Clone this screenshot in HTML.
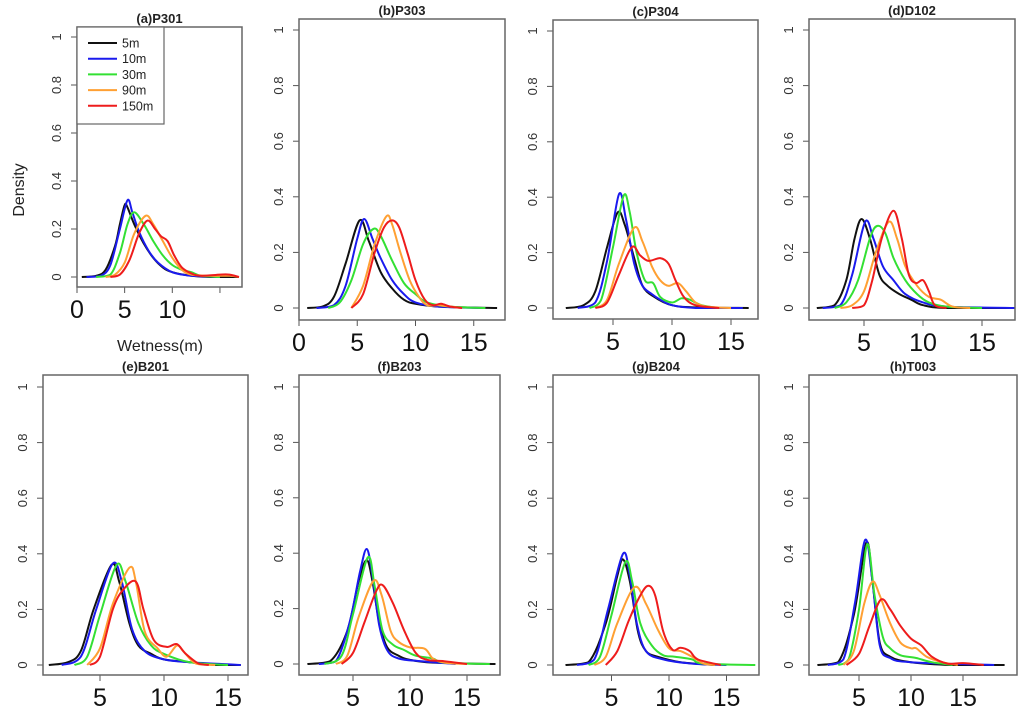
<!DOCTYPE html>
<html><head><meta charset="utf-8"><style>
html,body{margin:0;padding:0;background:#fff;}
svg{display:block;font-family:"Liberation Sans",Arial,sans-serif;}
</style></head><body>
<svg id="chart" width="1024" height="716" viewBox="0 0 1024 716" xmlns="http://www.w3.org/2000/svg"></svg>
<script>
// ---- data ----
const seriesNames = ["5m","10m","30m","90m","150m"];
const seriesColors = ["#111111","#1a1aee","#33e033","#ffa033","#ee1c1c"];
const panelTitles = ["(a)P301","(b)P303","(c)P304","(d)D102","(e)B201","(f)B203","(g)B204","(h)T003"];
const yTicks = [0,0.2,0.4,0.6,0.8,1];
const yTickLabels = ["0","0.2","0.4","0.6","0.8","1"];
const xTicksA = [0,5,10,15];
const xTickLabelsA = ["0","5","10",""];
const xTicksB = [0,5,10,15];
const xTickLabelsB = ["0","5","10","15"];
const xTicksOther = [5,10,15];
const xTickLabelsOther = ["5","10","15"];

const pA = [
 [[0.5,0],[2,0.005],[3,0.03],[4,0.13],[4.5,0.22],[5,0.30],[5.3,0.29],[6,0.22],[7,0.14],[8,0.08],[9,0.04],[10,0.02],[12,0.005],[14,0],[17,0]],
 [[1,0],[2.5,0.005],[3.5,0.05],[4.5,0.2],[5.3,0.32],[5.8,0.27],[6.5,0.19],[7.5,0.11],[8.5,0.06],[10,0.02],[12,0.005],[15,0]],
 [[2,0],[3.5,0.01],[4.5,0.1],[5.3,0.22],[6,0.27],[7,0.22],[8,0.15],[9,0.09],[10,0.05],[11,0.03],[12,0.02],[13,0.005],[15,0]],
 [[3,0],[4,0.01],[5,0.06],[6,0.18],[7.2,0.255],[8,0.22],[9,0.15],[10,0.08],[11,0.03],[12,0.01],[14,0.005],[16,0.005],[17,0]],
 [[3.5,0],[4.5,0.01],[5.5,0.07],[6.5,0.18],[7.4,0.235],[8.2,0.2],[8.8,0.17],[9.5,0.15],[10.2,0.09],[11,0.04],[12,0.015],[13,0.005],[15,0.01],[16,0.01],[17,0]]
];
const pB = [
 [[0.7,0],[2,0.005],[3,0.04],[4,0.16],[5.2,0.315],[6,0.24],[7,0.13],[8,0.07],[9,0.03],[10,0.015],[12,0.005],[17,0]],
 [[1.5,0],[3,0.01],[4,0.08],[5,0.25],[5.6,0.32],[6.3,0.25],[7,0.18],[8,0.1],[9,0.05],[10,0.02],[12,0.005],[16,0]],
 [[2.5,0],[3.5,0.02],[4.5,0.1],[5.5,0.23],[6.4,0.285],[7,0.26],[8,0.17],[9,0.09],[10,0.05],[11,0.02],[13,0.005],[16,0]],
 [[4.5,0],[5.5,0.08],[6.5,0.23],[7.5,0.33],[8,0.3],[8.7,0.2],[9.5,0.1],[10.3,0.04],[11,0.01],[12,0.01],[13,0.005],[14,0]],
 [[4.5,0],[5.5,0.05],[6.5,0.2],[7.3,0.29],[8,0.315],[8.6,0.29],[9.3,0.2],[10,0.1],[10.8,0.03],[11.5,0.01],[12.2,0.015],[13,0.005],[14,0]]
];
const pC = [
 [[1,0],[2.5,0.01],[3.5,0.06],[4.5,0.22],[5.4,0.345],[6,0.3],[6.8,0.18],[7.5,0.08],[8.5,0.04],[10,0.01],[12,0.002],[16.5,0]],
 [[2,0],[3.5,0.02],[4.5,0.17],[5.5,0.41],[6.1,0.32],[6.8,0.16],[7.5,0.08],[8.3,0.05],[9,0.03],[10,0.01],[12,0],[16,0]],
 [[3,0],[4,0.03],[5,0.22],[5.9,0.405],[6.4,0.35],[7,0.2],[7.7,0.1],[8.4,0.09],[9,0.04],[10,0.02],[10.8,0.035],[11.5,0.03],[12.5,0.01],[14,0]],
 [[3.5,0],[4.5,0.03],[5.5,0.16],[6.8,0.29],[7.5,0.24],[8.3,0.15],[9,0.1],[9.7,0.08],[10.5,0.09],[11.2,0.06],[12,0.02],[13,0.005],[15,0]],
 [[3.5,0],[4.5,0.02],[5.5,0.12],[6.6,0.22],[7.3,0.19],[8,0.17],[9,0.18],[9.7,0.16],[10.3,0.1],[11,0.04],[12,0.01],[14,0]]
];
const pD = [
 [[1,0],[2.5,0.01],[3.5,0.1],[4.2,0.25],[4.8,0.32],[5.5,0.25],[6.3,0.12],[7,0.08],[8,0.05],[9,0.03],[10,0.01],[12,0],[18,0]],
 [[1.5,0],[3,0.01],[4,0.12],[5.1,0.31],[5.8,0.25],[6.6,0.15],[7.5,0.1],[8.5,0.05],[10,0.02],[12,0.005],[18,0]],
 [[2.5,0],[3.5,0.02],[4.5,0.1],[5.5,0.25],[6.1,0.295],[6.8,0.27],[7.5,0.18],[8.5,0.1],[9.5,0.05],[10.5,0.02],[12,0.005],[15,0]],
 [[3,0],[4,0.01],[5,0.06],[6,0.2],[7.1,0.31],[7.8,0.25],[8.5,0.15],[9.5,0.08],[10.5,0.04],[11.5,0.03],[12.5,0.005],[14,0]],
 [[4,0],[5,0.01],[5.7,0.1],[6.5,0.25],[7.5,0.35],[8.2,0.25],[8.8,0.12],[9.4,0.09],[10,0.1],[10.5,0.06],[11,0.01],[12,0]]
];
const pE = [
 [[1,0],[2.5,0.01],[3.5,0.05],[4.5,0.2],[5.9,0.36],[6.5,0.3],[7.3,0.15],[8,0.07],[9,0.04],[10,0.02],[12,0.01],[14,0],[16,0]],
 [[2,0],[3.5,0.03],[4.7,0.2],[6.0,0.365],[6.7,0.3],[7.5,0.13],[8.5,0.05],[10,0.02],[12,0.01],[16,0]],
 [[3,0],[4,0.03],[5,0.18],[6.3,0.36],[7,0.3],[8,0.15],[9,0.07],[10,0.04],[12,0.01],[15,0]],
 [[4,0],[5,0.06],[6,0.22],[7.3,0.35],[7.8,0.3],[8.5,0.12],[9.5,0.06],[10.2,0.03],[11,0.07],[11.5,0.05],[12.5,0.005],[14,0]],
 [[4.2,0],[5,0.03],[6,0.2],[6.8,0.27],[7.8,0.3],[8.4,0.2],[9.2,0.09],[10.2,0.065],[11,0.075],[11.7,0.04],[12.7,0.005],[13.5,0]]
];
const pF = [
 [[1,0],[3,0.01],[4.5,0.12],[5.5,0.3],[6.2,0.375],[6.7,0.3],[7.3,0.15],[8,0.06],[9,0.03],[10,0.015],[12,0.005],[17.5,0]],
 [[2,0],[3.5,0.01],[4.7,0.15],[5.6,0.33],[6.2,0.415],[6.7,0.32],[7.3,0.14],[8,0.05],[9,0.02],[11,0.01],[14,0]],
 [[2.5,0],[4,0.03],[5,0.18],[6.3,0.385],[6.9,0.28],[7.6,0.12],[8.5,0.07],[9.5,0.05],[10.5,0.03],[12,0.02],[13,0.005],[17,0]],
 [[3.5,0],[4.5,0.03],[5.5,0.17],[6.8,0.3],[7.5,0.25],[8.3,0.12],[9,0.08],[10,0.06],[11.3,0.055],[12,0.02],[13,0.005],[15,0]],
 [[4,0],[5,0.04],[6,0.15],[7,0.26],[7.6,0.285],[8.5,0.22],[9.5,0.12],[10.5,0.04],[11.5,0.015],[13,0.01],[15,0]]
];
const pG = [
 [[1,0],[3,0.01],[4.5,0.15],[5.5,0.32],[6,0.38],[6.6,0.3],[7.3,0.12],[8,0.05],[9,0.03],[11,0.01],[14,0]],
 [[2,0],[3.5,0.02],[4.7,0.2],[6,0.4],[6.6,0.32],[7.2,0.15],[8,0.05],[9.5,0.02],[12,0.005],[15,0]],
 [[3,0],[4,0.03],[5,0.18],[6.2,0.37],[6.8,0.3],[7.5,0.15],[8.5,0.07],[9.5,0.035],[10.5,0.03],[12,0.02],[13,0.005],[17.5,0]],
 [[3.5,0],[4.5,0.03],[5.5,0.15],[7,0.28],[8,0.22],[9,0.13],[10,0.06],[11,0.05],[12,0.03],[13,0.005],[14,0]],
 [[4.5,0],[5.5,0.05],[6.5,0.16],[7.5,0.25],[8.2,0.285],[8.8,0.25],[9.5,0.12],[10.3,0.055],[11,0.062],[11.8,0.05],[12.5,0.02],[14.5,0]]
];
const pH = [
 [[1,0],[3,0.01],[4.5,0.18],[5.7,0.44],[6.3,0.3],[7,0.08],[8,0.03],[10,0.01],[14,0],[19,0]],
 [[2,0],[3.5,0.02],[4.6,0.22],[5.6,0.45],[6.3,0.3],[7,0.07],[8,0.025],[10,0.01],[18,0]],
 [[3,0],[4,0.02],[5,0.2],[5.8,0.435],[6.5,0.25],[7.3,0.1],[8,0.06],[9,0.035],[10.5,0.025],[12,0.01],[14,0]],
 [[3.5,0],[4.5,0.05],[5.5,0.22],[6.3,0.3],[7,0.25],[8,0.15],[9,0.08],[10,0.06],[10.5,0.06],[11.5,0.03],[13,0.01],[14.5,0]],
 [[3.8,0],[5,0.04],[6,0.14],[7.1,0.235],[8,0.2],[9,0.14],[10,0.095],[11,0.07],[12,0.03],[13.5,0.005],[15,0.007],[17,0]]
];
const panelData = [pA,pB,pC,pD,pE,pF,pG,pH];

// ---- layout (pixel geometry) ----
const layout = [
 {l:77,r:242,t:27,b:287,x0:77,xs:9.53,y0:277,y1:37,tk:xTicksA,tl:xTickLabelsA},
 {l:299,r:505,t:19,b:320,x0:299,xs:11.65,y0:308,y1:30,tk:xTicksB,tl:xTickLabelsB},
 {l:553,r:758,t:20,b:319,x0:554,xs:11.8,y0:308,y1:31,tk:xTicksOther,tl:xTickLabelsOther},
 {l:809,r:1015,t:19,b:320,x0:805,xs:11.8,y0:308,y1:30,tk:xTicksOther,tl:xTickLabelsOther},
 {l:43,r:248,t:375,b:675,x0:36,xs:12.8,y0:665,y1:387,tk:xTicksOther,tl:xTickLabelsOther},
 {l:299,r:500,t:375,b:675,x0:296,xs:11.4,y0:664,y1:387,tk:xTicksOther,tl:xTickLabelsOther},
 {l:553,r:759,t:375,b:675,x0:554,xs:11.5,y0:665,y1:387,tk:xTicksOther,tl:xTickLabelsOther},
 {l:809,r:1017,t:375,b:675,x0:807,xs:10.4,y0:665,y1:387,tk:xTicksOther,tl:xTickLabelsOther}
];

const NS = "http://www.w3.org/2000/svg";
const svg = document.getElementById('chart');
function mk(tag, attrs, parent){
  const e = document.createElementNS(NS, tag);
  for (const k in attrs) e.setAttribute(k, attrs[k]);
  (parent||svg).appendChild(e);
  return e;
}
function smoothPath(pts, base){
  let d = "M" + pts[0][0].toFixed(1) + "," + pts[0][1].toFixed(1);
  for (let i=0;i<pts.length-1;i++){
    const p0 = pts[i-1]||pts[i], p1=pts[i], p2=pts[i+1], p3=pts[i+2]||p2;
    const c1x = p1[0]+(p2[0]-p0[0])/6, c1y = Math.min(p1[1]+(p2[1]-p0[1])/6, base);
    const c2x = p2[0]-(p3[0]-p1[0])/6, c2y = Math.min(p2[1]-(p3[1]-p1[1])/6, base);
    d += " C"+c1x.toFixed(1)+","+c1y.toFixed(1)+" "+c2x.toFixed(1)+","+c2y.toFixed(1)+" "+p2[0].toFixed(1)+","+p2[1].toFixed(1);
  }
  return d;
}

panelData.forEach((series, pi) => {
  const L = layout[pi];
  const xS = v => L.x0 + v*L.xs;
  const yS = v => L.y0 - v*(L.y0-L.y1);
  const g = mk('g', {});
  
  

  const title = mk('text', {x:(L.l+L.r)/2, y:L.t-4, 'text-anchor':'middle', 'font-size':13, 'font-weight':'bold', fill:'#222'}, g);
  title.textContent = panelTitles[pi];
  
  

  yTicks.forEach((v, i) => {
    const y = yS(v);
    const tk = mk('line', {x1:L.l-6, x2:L.l, y1:y, y2:y, stroke:'#555', 'stroke-width':1}, g);
    
    
    const tx = mk('text', {x:0, y:0, transform:`translate(${L.l-16},${y}) rotate(-90)`, 'text-anchor':'middle', 'font-size':13, fill:'#333'}, g);
    tx.textContent = yTickLabels[i];
    
    
  });
  L.tk.forEach((v, i) => {
    const x = xS(v);
    const tk = mk('line', {x1:x, x2:x, y1:L.b, y2:L.b+6, stroke:'#555', 'stroke-width':1}, g);
    
    
    if (L.tl[i]) {
      const tx = mk('text', {x:x, y:L.b+31, 'text-anchor':'middle', 'font-size':25, fill:'#111'}, g);
      tx.textContent = L.tl[i];
      
      
    }
  });

  const cid = 'clip' + pi;
  const cp = mk('clipPath', {id:cid}, g);
  mk('rect', {x:L.l, y:L.t, width:L.r-L.l, height:L.b-L.t}, cp);

  series.forEach((pts, si) => {
    const path = mk('path', {d:smoothPath(pts.map(p => [xS(p[0]), yS(p[1])]), L.y0), fill:'none', stroke:seriesColors[si], 'stroke-width':2, 'clip-path':`url(#${cid})`, 'stroke-linejoin':'round'}, g);
    
    
  });

  const box = mk('rect', {x:L.l, y:L.t, width:L.r-L.l, height:L.b-L.t, fill:'none', stroke:'#666', 'stroke-width':1.5}, g);
  
  
});

const yt = mk('text', {x:0, y:0, transform:'translate(24,190) rotate(-90)', 'text-anchor':'middle', 'font-size':16, fill:'#222'});
yt.textContent = 'Density';


const xt = mk('text', {x:160, y:351, 'text-anchor':'middle', 'font-size':16, fill:'#222'});
xt.textContent = 'Wetness(m)';



const lg = mk('g', {});


const lb = mk('rect', {x:77, y:27, width:87, height:97, fill:'#fff', stroke:'#666', 'stroke-width':1.2}, lg);


seriesNames.forEach((n, i) => {
  const y = 43 + i*15.7;
  const ln = mk('line', {x1:88, x2:117, y1:y, y2:y, stroke:seriesColors[i], 'stroke-width':2}, lg);
  
  
  const tx = mk('text', {x:122, y:y+4.5, 'font-size':12.5, fill:'#222'}, lg);
  tx.textContent = n;
  
  
});
</script>
</body></html>
